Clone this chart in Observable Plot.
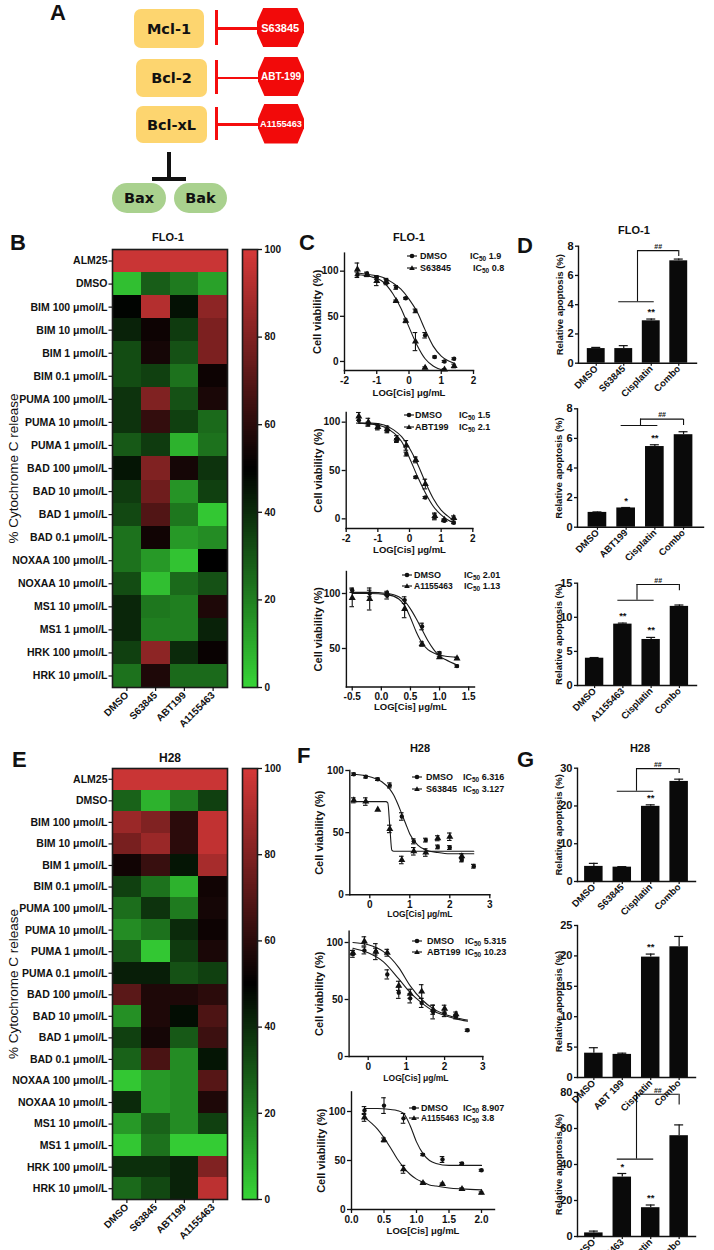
<!DOCTYPE html>
<html><head><meta charset="utf-8">
<script src="https://cdn.jsdelivr.net/npm/d3@7"></script>
<script src="https://cdn.jsdelivr.net/npm/@observablehq/plot@0.6"></script>
<style>
body{margin:0;background:#fff;}
#root{position:relative;width:714px;height:1250px;overflow:hidden;font-family:"Liberation Sans",Arial,sans-serif;color:#111;}
.letter{position:absolute;font-weight:bold;font-size:22px;line-height:1;}
.title{position:absolute;font-weight:bold;font-size:11px;line-height:1;transform:translate(-50%,-50%);white-space:nowrap;}
.leg{position:absolute;font-weight:bold;font-size:9px;line-height:1;white-space:nowrap;transform:translateY(-50%);}
.leg sub{font-size:6.5px;vertical-align:-2px;line-height:0;}
.abox{position:absolute;display:flex;align-items:center;justify-content:center;font-family:"DejaVu Sans",sans-serif;font-weight:bold;font-size:14.5px;}
.red{position:absolute;background:#f50d0d;}
.drug{position:absolute;background:#f20a0a;color:#fff;display:flex;align-items:center;justify-content:center;font-weight:bold;clip-path:polygon(14% 0,86% 0,100% 38%,100% 62%,86% 100%,14% 100%,0 62%,0 38%);}
</style></head><body><div id="root"></div>
<script>
// ---------------- DATA ----------------
const heatCols = ["DMSO", "S63845", "ABT199", "A1155463"];
const heatTicks = [0, 20, 40, 60, 80, 100];
const floRows = ["ALM25","DMSO","BIM 100 μmol/L","BIM 10 μmol/L","BIM 1 μmol/L","BIM 0.1 μmol/L","PUMA 100 μmol/L","PUMA 10 μmol/L","PUMA 1 μmol/L","BAD 100 μmol/L","BAD 10 μmol/L","BAD 1 μmol/L","BAD 0.1 μmol/L","NOXAA 100 μmol/L","NOXAA 10 μmol/L","MS1 10 μmol/L","MS1 1 μmol/L","HRK 100 μmol/L","HRK 10 μmol/L"];
const floValues = [
 [97,97,97,97],[5,28,21,12],[49,92,46,83],[42,53,36,79],[32,55,31,79],[32,35,23,53],
 [38,80,31,56],[38,62,35,25],[29,36,8,23],[45,80,55,38],[36,76,15,35],[33,69,22,3],
 [23,54,14,17],[23,14,4,50],[32,5,25,31],[41,22,20,57],[41,20,20,42],[35,83,40,52],[23,57,25,25]
];
const h28Rows = ["ALM25","DMSO","BIM 100 μmol/L","BIM 10 μmol/L","BIM 1 μmol/L","BIM 0.1 μmol/L","PUMA 100 μmol/L","PUMA 10 μmol/L","PUMA 1 μmol/L","PUMA 0.1 μmol/L","BAD 100 μmol/L","BAD 10 μmol/L","BAD 1 μmol/L","BAD 0.1 μmol/L","NOXAA 100 μmol/L","NOXAA 10 μmol/L","MS1 10 μmol/L","MS1 1 μmol/L","HRK 100 μmol/L","HRK 10 μmol/L"];
const h28Values = [
 [97,97,97,97],[27,8,21,35],[86,80,60,95],[78,86,60,95],[54,63,45,89],[35,23,8,54],
 [24,38,21,55],[17,23,40,53],[29,3,36,56],[43,43,31,35],[71,57,57,60],[16,57,47,68],
 [35,55,29,64],[27,67,17,45],[3,14,17,70],[40,14,17,57],[14,27,17,35],[3,23,2,2],[39,39,42,80],[25,33,42,94]
];

// C: FLO-1 dose response
const c1X = [-1.6,-1.3,-1.0,-0.7,-0.4,-0.1,0.2,0.5,0.8,1.1,1.4];
const c1Dmso = [96,97,93,90,82,70,56,29,5,0,3];
const c1DmsoErr = [3,2,2,2,2,1,2,3,1,1,1];
const c1S63845 = [102,96,89,88,67,45,22,-7,null,-9,-5];
const c1S63845Err = [7,2,5,3,1,2,10,1,0,1,2];
const c1FitX = [-1.6,-1.2,-0.8,-0.5,-0.25,0,0.25,0.5,0.75,1.0,1.2,1.4];
const c1DmsoFit = [98,96,93,87,80,69,55,35,17,6,1,-2];
const c1S63845FitX = [-1.6,-1.2,-0.8,-0.5,-0.25,0,0.25,0.5,0.75,1.1];
const c1S63845Fit = [96,94,88,75,59,38,18,3,-5,-10];

const c2X = [-1.6,-1.3,-1.0,-0.7,-0.4,-0.1,0.2,0.5,0.8,1.1,1.4];
const c2Dmso = [102,98,95,91,81,67,43,22,2,-2,-4];
const c2DmsoErr = [3,2,2,2,2,2,1,1,3,1,1];
const c2Abt = [106,100,95,93,83,76,61,36,3,-1,1];
const c2AbtErr = [4,4,3,3,3,5,3,5,3,1,2];
const c2FitX = [-1.6,-1.2,-0.8,-0.5,-0.25,0,0.25,0.5,0.75,1.0,1.2,1.4];
const c2DmsoFit = [99,98,95,89,80,63,44,27,13,4,-1,-4];
const c2AbtFit = [99,99,97,92,85,73,57,38,21,9,3,-2];

const c3X = [-0.5,-0.2,0.1,0.4,0.7,1.0,1.3];
const c3Dmso = [103,100,98,94,70,46,34];
const c3DmsoErr = [2,3,3,3,3,1,1];
const c3A115 = [96,95,100,86,54,42,41];
const c3A115Err = [8,10,2,8,2,1,1];
const c3FitX = [-0.5,-0.2,0.1,0.3,0.4,0.5,0.6,0.7,0.8,0.9,1.0,1.1,1.3];
const c3DmsoFit = [101,101,100,97,93,86,77,67,57,49,43,40,35];
const c3A115Fit = [100,100,99,95,89,78,65,55,49,46,44,43,42];

// F: H28 dose response
const f1X = [-0.4,-0.1,0.2,0.5,0.8,1.1,1.4,1.7,2.0,2.3,2.6];
const f1Dmso = [97,95,93,88,63,43,44,38.5,38,28,23];
const f1DmsoErr = [1,1,1,2,3,2,1.5,1.5,1.5,1.5,1.5];
const f1S63845 = [76,75,68.5,53,28,35,34,45.5,46.7,31,null];
const f1S63845Err = [2,3,0,3,3,3,3,2,3,2,0];
const f1DmsoFitX = [-0.4,0,0.3,0.5,0.6,0.7,0.8,0.9,1.0,1.2,1.4,1.7,2.0,2.6];
const f1DmsoFit = [97,95,91,85,80,73,65,57,49,40,36,34,33,33];
const f1S63845FitX = [-0.4,0.4,0.45,0.5,0.55,0.6,2.6];
const f1S63845Fit = [75,75,74,55,36,35,35];

const f2X = [-0.4,-0.1,0.2,0.5,0.8,1.1,1.4,1.7,2.0,2.3,2.6];
const f2Dmso = [90,93,92,72,56,51,47,39,38,35,23];
const f2DmsoErr = [3,3,7,4,5,4,4,6,3,2,1];
const f2Abt = [91,101,92,91,62,55,57,41,42,37,null];
const f2AbtErr = [2,4,3,3,4,4,6,4,3,2,0];
const f2FitX = [-0.4,0,0.4,0.8,1.1,1.4,1.7,2.0,2.3,2.6];
const f2DmsoFit = [95,91,83,68,56,47,40,36,33,31];
const f2AbtFit = [100,98,92,78,62,50,42,37,34,32];

const f3X = [0.2,0.5,0.8,1.1,1.4,1.7,2.0];
const f3Dmso = [101,106,93,56,51,47,40];
const f3DmsoErr = [4,8,5,1,3,1,1];
const f3A115 = [94,71,41,27,26,21,17];
const f3A115Err = [4,2,4,1,1,1,1];
const f3FitX = [0.2,0.4,0.6,0.7,0.8,0.9,1.0,1.1,1.2,1.3,1.5,1.7,2.0];
const f3DmsoFit = [103,103,102,101,98,86,69,57,50,47,45,45,45];
const f3A115Fit = [94,82,63,52,43,36,31,28,25,24,22,21,20];

// D / G: relative apoptosis bars
const d1Cats = ["DMSO","S63845","Cisplatin","Combo"];
const d1Vals = [1.0,1.0,2.9,7.0];
const d1Errs = [0.08,0.2,0.12,0.12];
const d1Stars = ["","","**",""];
const d2Cats = ["DMSO","ABT199","Cisplatin","Combo"];
const d2Vals = [1.0,1.3,5.45,6.25];
const d2Errs = [0.03,0.03,0.12,0.2];
const d2Stars = ["","*","**",""];
const d3Cats = ["DMSO","A1155463","Cisplatin","Combo"];
const d3Vals = [4.0,9.0,6.75,11.6];
const d3Errs = [0.1,0.15,0.3,0.2];
const d3Stars = ["","**","**",""];
const g1Cats = ["DMSO","S63845","Cisplatin","Combo"];
const g1Vals = [4.0,3.8,19.9,26.5];
const g1Errs = [0.8,0.15,0.4,0.6];
const g1Stars = ["","","**",""];
const g2Cats = ["DMSO","ABT 199","Cisplatin","Combo"];
const g2Vals = [4.0,3.8,19.8,21.5];
const g2Errs = [0.9,0.2,0.5,1.7];
const g2Stars = ["","","**",""];
const g3Cats = ["DMSO","A1155463","Cisplatin","Combo"];
const g3Vals = [2,33,16,56];
const g3Errs = [1,2,1.5,6];
const g3Stars = ["","*","**",""];

// ---------------- HELPERS ----------------
const root = document.getElementById("root");
const FONT = '"Liberation Sans", Arial, sans-serif';
const baseStyle = {fontFamily: FONT, fontWeight: "bold", fontSize: "10px", color: "#111", background: "none", overflow: "visible"};
const heatColor = {type: "linear", domain: [0, 50, 100], range: ["#36d436", "#000000", "#d63838"]};

function el(tag, cls, text, css) {
  const d = document.createElement(tag);
  if (cls) d.className = cls;
  if (text != null) d.innerHTML = text;
  Object.assign(d.style, css || {});
  root.appendChild(d);
  return d;
}
function px(v) { return v + "px"; }
function frameOpts(b, f) {
  return {width: b.w, height: b.h, marginLeft: f.x0 - b.l, marginRight: b.l + b.w - f.x1, marginTop: f.y0 - b.t, marginBottom: b.t + b.h - f.y1};
}
function mount(svg, b) {
  svg.style.position = "absolute"; svg.style.left = px(b.l); svg.style.top = px(b.t);
  root.appendChild(svg);
}
function letter(ch, l, capTop) { el("div", "letter", ch, {left: px(l), top: px(capTop - 3)}); }
function title(t, cx, cy, fs) { el("div", "title", t, {left: px(cx), top: px(cy), fontSize: px(fs || 11)}); }

function heatmap(rows, values, box, fr) {
  const data = rows.flatMap((r, i) => heatCols.map((c, j) => ({row: r, col: c, value: values[i][j]})));
  const svg = Plot.plot({
    ...frameOpts(box, fr), style: baseStyle,
    x: {domain: heatCols, padding: 0, round: false},
    y: {domain: rows, padding: 0, round: false},
    color: heatColor,
    marks: [
      Plot.cell(data, {x: "col", y: "row", fill: "value", shapeRendering: "crispEdges"}),
      Plot.frame({stroke: "#1b1b1b", strokeWidth: 1.6}),
      Plot.axisY({tickSize: 3.5, tickPadding: 1.5, label: null, fontSize: 10.5, fontWeight: "bold", strokeWidth: 1.2}),
      Plot.axisX({tickSize: 4, tickPadding: 2, tickRotate: -45, label: null, fontSize: 10, fontWeight: "bold", strokeWidth: 1.2}),
      Plot.text(["% Cytochrome C release"], {text: d => d, frameAnchor: "left", textAnchor: "middle", rotate: -90, dx: 13 - fr.x0, fontSize: 13.5, fontWeight: "normal"})
    ]
  });
  mount(svg, box);
}
function colorbar(box, fr) {
  const steps = d3.range(0, 100, 0.5);
  const svg = Plot.plot({
    ...frameOpts(box, fr), style: baseStyle,
    x: {domain: [0, 1], axis: null},
    y: {domain: [0, 100]},
    color: heatColor,
    marks: [
      Plot.rect(steps, {x1: () => 0, x2: () => 1, y1: d => d, y2: d => d + 0.6, fill: d => d + 0.25, shapeRendering: "crispEdges"}),
      Plot.frame({stroke: "#1b1b1b", strokeWidth: 1.6}),
      Plot.axisY({anchor: "right", ticks: heatTicks, tickSize: 4, tickPadding: 3, label: null, fontSize: 10, strokeWidth: 1.3})
    ]
  });
  mount(svg, box);
}

function doseChart(cfg) {
  const {box, fr, xDomain, yDomain, xTicks, yTicks, fmt, series, fits, xLabel, xLabelSize, xLabelDy, yLabelDx} = cfg;
  const marks = [];
  for (const f of fits) {
    marks.push(Plot.line(f.x.map((x, i) => ({x, y: f.y[i]})), {x: "x", y: "y", curve: "monotone-x", stroke: "#1a1a1a", strokeWidth: 1.1}));
  }
  for (const s of series) {
    const pts = s.x.map((x, i) => ({x, y: s.y[i], e: s.err[i]})).filter(d => d.y != null);
    const eb = pts.filter(d => d.e > 0);
    marks.push(Plot.ruleX(eb, {x: "x", y1: d => d.y - d.e, y2: d => d.y + d.e, strokeWidth: 1.1}));
    marks.push(Plot.ruleY(eb, {x1: "x", x2: "x", y: d => d.y + d.e, insetLeft: -2.3, insetRight: -2.3, strokeWidth: 1.1}));
    marks.push(Plot.ruleY(eb, {x1: "x", x2: "x", y: d => d.y - d.e, insetLeft: -2.3, insetRight: -2.3, strokeWidth: 1.1}));
    marks.push(Plot.dot(pts, {x: "x", y: "y", symbol: s.symbol, r: s.symbol === "triangle" ? 2.6 : 2.2, fill: "#111", stroke: "none"}));
  }
  marks.push(
    Plot.frame({anchor: "left", strokeWidth: 1.4}),
    Plot.frame({anchor: "bottom", strokeWidth: 1.4}),
    Plot.axisX({ticks: xTicks, tickFormat: fmt, tickSize: 4, tickPadding: 2, label: null, fontSize: 10, strokeWidth: 1.3}),
    Plot.axisY({ticks: yTicks, tickFormat: d => String(d), tickSize: 4, tickPadding: 2, label: null, fontSize: 10, strokeWidth: 1.3}),
    Plot.text([xLabel], {text: d => d, frameAnchor: "bottom", dy: xLabelDy, fontSize: xLabelSize}),
    Plot.text(["Cell viability (%)"], {text: d => d, frameAnchor: "left", textAnchor: "middle", rotate: -90, dx: yLabelDx, fontSize: 11})
  );
  const svg = Plot.plot({
    ...frameOpts(box, fr), style: baseStyle,
    x: {domain: xDomain}, y: {domain: yDomain},
    marks
  });
  mount(svg, box);
}

function barChart(cfg) {
  const {box, fr, po, cats, vals, errs, stars, yDomain, yTicks, bracket} = cfg;
  const pi = 0.35;
  const sb = d3.scaleBand(cats, [fr.x0, fr.x1]).paddingInner(pi).paddingOuter(po);
  const step = sb.step(), bw = sb.bandwidth();
  const rows = cats.map((c, i) => ({c, v: vals[i], e: errs[i], s: stars[i]}));
  const marks = [
    Plot.barY(rows, {x: "c", y: "v", fill: "#0a0a0a"}),
    Plot.ruleX(rows, {x: "c", y1: "v", y2: d => d.v + d.e, strokeWidth: 1.2}),
    Plot.tickY(rows, {x: "c", y: d => d.v + d.e, insetLeft: bw / 2 - 4.5, insetRight: bw / 2 - 4.5, strokeWidth: 1.2}),
    Plot.text(rows.filter(d => d.s), {x: "c", y: d => d.v + d.e, text: "s", dy: -7, fontSize: 9.5})
  ];
  if (bracket) {
    const b = [bracket];
    marks.push(
      Plot.ruleY(b, {x1: "from", x2: "to", y: "yLow", insetLeft: bw / 2 - 5, insetRight: bw / 2 - 3, strokeWidth: 1.1}),
      Plot.ruleX(b, {x: "to", y1: "yLow", y2: "yTop", dx: -step / 2, strokeWidth: 1.1}),
      Plot.ruleY(b, {x1: "to", x2: "target", y: "yTop", insetLeft: bw / 2 - step / 2, insetRight: bw / 2, strokeWidth: 1.1}),
      Plot.ruleX(b, {x: "target", y1: "yTop", y2: "yDrop", strokeWidth: 1.1}),
      Plot.text(b, {x: "target", y: "yTop", text: () => "##", dx: -0.75 * step, dy: -4, fontSize: 7})
    );
  }
  marks.push(
    Plot.frame({anchor: "left", strokeWidth: 1.4}),
    Plot.frame({anchor: "bottom", strokeWidth: 1.4}),
    Plot.axisY({ticks: yTicks, tickFormat: d => String(d), tickSize: 3, tickPadding: 2, label: null, fontSize: 11, strokeWidth: 1.3}),
    Plot.axisX({tickSize: 3, tickPadding: 1, tickRotate: -45, label: null, fontSize: 9.5, strokeWidth: 1.2}),
    Plot.text(["Relative apoptosis (%)"], {text: d => d, frameAnchor: "left", textAnchor: "middle", rotate: -90, dx: -19, fontSize: 9.5})
  );
  const svg = Plot.plot({
    ...frameOpts(box, fr), style: baseStyle,
    x: {domain: cats, paddingInner: pi, paddingOuter: po, round: false},
    y: {domain: yDomain},
    marks
  });
  mount(svg, box);
}

const svgNS = "http://www.w3.org/2000/svg";
function legend(entries) {
  for (const e of entries) {
    const s = document.createElementNS(svgNS, "svg");
    s.setAttribute("width", 12); s.setAttribute("height", 8);
    Object.assign(s.style, {position: "absolute", left: px(e.sx - 6), top: px(e.y - 4)});
    const ln = document.createElementNS(svgNS, "line");
    ln.setAttribute("x1", 1); ln.setAttribute("x2", 11); ln.setAttribute("y1", 4); ln.setAttribute("y2", 4);
    ln.setAttribute("stroke", "#111"); ln.setAttribute("stroke-width", 1.1);
    s.appendChild(ln);
    let m;
    if (e.sym === "circle") { m = document.createElementNS(svgNS, "circle"); m.setAttribute("cx", 6); m.setAttribute("cy", 4); m.setAttribute("r", 2.3); }
    else { m = document.createElementNS(svgNS, "path"); m.setAttribute("d", "M6,1.2L8.8,6L3.2,6Z"); }
    m.setAttribute("fill", "#111");
    s.appendChild(m);
    root.appendChild(s);
    el("div", "leg", e.name, {left: px(e.nx), top: px(e.y), fontSize: px(e.fs || 9)});
    el("div", "leg", "IC<sub>50</sub> " + e.ic, {left: px(e.ix), top: px(e.y)});
  }
}

// ---------------- PANEL A (schematic) ----------------
letter("A", 50, 5);
const aBoxes = [
  {t: "Mcl-1", l: 134, top: 9, w: 70, h: 39},
  {t: "Bcl-2", l: 136, top: 59, w: 71, h: 38},
  {t: "Bcl-xL", l: 136, top: 106, w: 71, h: 37}
];
const aDrugs = [
  {t: "S63845", top: 8, h: 39, l: 256.5, fs: 11},
  {t: "ABT-199", top: 57, h: 39, l: 258, fs: 10},
  {t: "A1155463", top: 103.5, h: 40, l: 258, fs: 9.2}
];
aBoxes.forEach((b, i) => {
  el("div", "abox", b.t, {left: px(b.l), top: px(b.top), width: px(b.w), height: px(b.h), background: "#fdd56f", borderRadius: "7px"});
  const cy = b.top + b.h / 2;
  el("div", "red", null, {left: "214.5px", top: px(b.top + 1), width: "3.5px", height: px(b.h - 4)});
  el("div", "red", null, {left: "217px", top: px(cy - 1.3), width: px(aDrugs[i].l - 216), height: "2.6px"});
  const d = aDrugs[i];
  el("div", "drug", d.t, {left: px(d.l), top: px(d.top), width: px(304 - d.l), height: px(d.h), fontSize: px(d.fs)});
});
el("div", "red", null, {left: "167px", top: "152px", width: "4px", height: "28px", background: "#111"});
el("div", "red", null, {left: "152px", top: "177px", width: "34px", height: "3.5px", background: "#111"});
el("div", "abox", "Bax", {left: "112px", top: "183px", width: "54px", height: "30px", background: "#a9d18e", borderRadius: "15px"});
el("div", "abox", "Bak", {left: "174px", top: "183px", width: "53px", height: "30px", background: "#a9d18e", borderRadius: "15px"});

// ---------------- PANEL B / E heatmaps ----------------
letter("B", 10, 235);
title("FLO-1", 168, 237);
heatmap(floRows, floValues, {l: 0, t: 240, w: 240, h: 510}, {x0: 112, x1: 227, y0: 249, y1: 687});
colorbar({l: 235, t: 240, w: 60, h: 460}, {x0: 242, x1: 257, y0: 249, y1: 687});

letter("E", 12, 752);
title("H28", 170, 758, 12);
heatmap(h28Rows, h28Values, {l: 0, t: 760, w: 240, h: 490}, {x0: 112, x1: 227, y0: 768, y1: 1199});
colorbar({l: 235, t: 760, w: 60, h: 460}, {x0: 242, x1: 257, y0: 768, y1: 1199});

// ---------------- PANEL C ----------------
letter("C", 299, 235);
title("FLO-1", 409, 237);
const intFmt = d => String(d);
const decFmt = d => d.toFixed(1);
doseChart({box: {l: 300, t: 245, w: 200, h: 160}, fr: {x0: 344, x1: 473, y0: 252.6, y1: 370},
  xDomain: [-2, 2], yDomain: [-10, 120], xTicks: [-2,-1,0,1,2], yTicks: [0,50,100], fmt: intFmt,
  series: [{x: c1X, y: c1Dmso, err: c1DmsoErr, symbol: "circle"}, {x: c1X, y: c1S63845, err: c1S63845Err, symbol: "triangle"}],
  fits: [{x: c1FitX, y: c1DmsoFit}, {x: c1S63845FitX, y: c1S63845Fit}],
  xLabel: "LOG[Cis] μg/mL", xLabelSize: 9.5, xLabelDy: 25, yLabelDx: -27});
legend([
  {y: 256, sx: 412, nx: 420, ix: 470, sym: "circle", name: "DMSO", ic: "1.9"},
  {y: 268, sx: 412, nx: 420, ix: 473, sym: "triangle", name: "S63845", ic: "0.8"}
]);
doseChart({box: {l: 300, t: 400, w: 200, h: 165}, fr: {x0: 345.7, x1: 472.3, y0: 412, y1: 528},
  xDomain: [-2, 2], yDomain: [-10, 110], xTicks: [-2,-1,0,1,2], yTicks: [0,50,100], fmt: intFmt,
  series: [{x: c2X, y: c2Dmso, err: c2DmsoErr, symbol: "circle"}, {x: c2X, y: c2Abt, err: c2AbtErr, symbol: "triangle"}],
  fits: [{x: c2FitX, y: c2DmsoFit}, {x: c2FitX, y: c2AbtFit}],
  xLabel: "LOG[Cis] μg/mL", xLabelSize: 9.5, xLabelDy: 24, yLabelDx: -28});
legend([
  {y: 415, sx: 409, nx: 415, ix: 459, sym: "circle", name: "DMSO", ic: "1.5"},
  {y: 427, sx: 409, nx: 415, ix: 459, sym: "triangle", name: "ABT199", ic: "2.1"}
]);
doseChart({box: {l: 300, t: 560, w: 200, h: 160}, fr: {x0: 345.9, x1: 474, y0: 571, y1: 686.5},
  xDomain: [-0.6, 1.6], yDomain: [15, 120], xTicks: [-0.5,0,0.5,1,1.5], yTicks: [50,100], fmt: decFmt,
  series: [{x: c3X, y: c3Dmso, err: c3DmsoErr, symbol: "circle"}, {x: c3X, y: c3A115, err: c3A115Err, symbol: "triangle"}],
  fits: [{x: c3FitX, y: c3DmsoFit}, {x: c3FitX, y: c3A115Fit}],
  xLabel: "LOG[Cis] μg/mL", xLabelSize: 9.5, xLabelDy: 23, yLabelDx: -28});
legend([
  {y: 575, sx: 407, nx: 414, ix: 464, sym: "circle", name: "DMSO", ic: "2.01"},
  {y: 586, sx: 407, nx: 414, ix: 464, sym: "triangle", name: "A1155463", ic: "1.13", fs: 8.5}
]);

// ---------------- PANEL F ----------------
letter("F", 297, 748);
title("H28", 420, 748);
doseChart({box: {l: 300, t: 760, w: 200, h: 170}, fr: {x0: 349.3, x1: 489.3, y0: 770, y1: 894.3},
  xDomain: [-0.5, 3], yDomain: [0, 100], xTicks: [0,1,2,3], yTicks: [0,50,100], fmt: intFmt,
  series: [{x: f1X, y: f1Dmso, err: f1DmsoErr, symbol: "circle"}, {x: f1X, y: f1S63845, err: f1S63845Err, symbol: "triangle"}],
  fits: [{x: f1DmsoFitX, y: f1DmsoFit}, {x: f1S63845FitX, y: f1S63845Fit}],
  xLabel: "LOG[Cis] μg/mL", xLabelSize: 8.5, xLabelDy: 22, yLabelDx: -30});
legend([
  {y: 777, sx: 417, nx: 426, ix: 463, sym: "circle", name: "DMSO", ic: "6.316"},
  {y: 789, sx: 417, nx: 426, ix: 463, sym: "triangle", name: "S63845", ic: "3.127"}
]);
doseChart({box: {l: 300, t: 920, w: 200, h: 170}, fr: {x0: 348.6, x1: 482.3, y0: 930.6, y1: 1056},
  xDomain: [-0.5, 3], yDomain: [0, 110], xTicks: [0,1,2,3], yTicks: [0,50,100], fmt: intFmt,
  series: [{x: f2X, y: f2Dmso, err: f2DmsoErr, symbol: "circle"}, {x: f2X, y: f2Abt, err: f2AbtErr, symbol: "triangle"}],
  fits: [{x: f2FitX, y: f2DmsoFit}, {x: f2FitX, y: f2AbtFit}],
  xLabel: "LOG[Cis] μg/mL", xLabelSize: 8.5, xLabelDy: 24, yLabelDx: -30});
legend([
  {y: 941, sx: 417, nx: 427, ix: 465, sym: "circle", name: "DMSO", ic: "5.315"},
  {y: 952, sx: 417, nx: 427, ix: 465, sym: "triangle", name: "ABT199", ic: "10.23"}
]);
doseChart({box: {l: 300, t: 1085, w: 200, h: 165}, fr: {x0: 351, x1: 494, y0: 1091.4, y1: 1209},
  xDomain: [0, 2.2], yDomain: [0, 120], xTicks: [0,0.5,1,1.5,2], yTicks: [0,50,100], fmt: decFmt,
  series: [{x: f3X, y: f3Dmso, err: f3DmsoErr, symbol: "circle"}, {x: f3X, y: f3A115, err: f3A115Err, symbol: "triangle"}],
  fits: [{x: f3FitX, y: f3DmsoFit}, {x: f3FitX, y: f3A115Fit}],
  xLabel: "LOG[Cis] μg/mL", xLabelSize: 9.5, xLabelDy: 24, yLabelDx: -30});
legend([
  {y: 1108, sx: 414, nx: 421, ix: 463, sym: "circle", name: "DMSO", ic: "8.907"},
  {y: 1118, sx: 414, nx: 421, ix: 463, sym: "triangle", name: "A1155463", ic: "3.8", fs: 8.3}
]);

// ---------------- PANEL D ----------------
letter("D", 517, 238);
title("FLO-1", 634, 230);
barChart({box: {l: 490, t: 235, w: 224, h: 170}, fr: {x0: 578, x1: 696, y0: 245.7, y1: 362.7}, po: 0.32,
  cats: d1Cats, vals: d1Vals, errs: d1Errs, stars: d1Stars, yDomain: [0, 8], yTicks: [0,2,4,6,8],
  bracket: {from: "S63845", to: "Cisplatin", target: "Combo", yLow: 4.2, yTop: 7.7, yDrop: 7.3}});
barChart({box: {l: 490, t: 398, w: 224, h: 170}, fr: {x0: 577, x1: 703, y0: 408.3, y1: 526.7}, po: 0.37,
  cats: d2Cats, vals: d2Vals, errs: d2Errs, stars: d2Stars, yDomain: [0, 8], yTicks: [0,2,4,6,8],
  bracket: {from: "ABT199", to: "Cisplatin", target: "Combo", yLow: 6.87, yTop: 7.3, yDrop: 6.87}});
barChart({box: {l: 490, t: 572, w: 224, h: 160}, fr: {x0: 577, x1: 696, y0: 582.7, y1: 685}, po: 0.28,
  cats: d3Cats, vals: d3Vals, errs: d3Errs, stars: d3Stars, yDomain: [0, 15], yTicks: [0,5,10,15],
  bracket: {from: "A1155463", to: "Cisplatin", target: "Combo", yLow: 12.5, yTop: 14.8, yDrop: 13.9}});

// ---------------- PANEL G ----------------
letter("G", 517, 752);
title("H28", 640, 748);
barChart({box: {l: 490, t: 757, w: 224, h: 170}, fr: {x0: 577, x1: 695, y0: 767.7, y1: 881}, po: 0.25,
  cats: g1Cats, vals: g1Vals, errs: g1Errs, stars: g1Stars, yDomain: [0, 30], yTicks: [0,10,20,30],
  bracket: {from: "S63845", to: "Cisplatin", target: "Combo", yLow: 23.9, yTop: 29.9, yDrop: 28.6}});
barChart({box: {l: 490, t: 915, w: 224, h: 200}, fr: {x0: 577, x1: 695, y0: 925, y1: 1077}, po: 0.25,
  cats: g2Cats, vals: g2Vals, errs: g2Errs, stars: g2Stars, yDomain: [0, 25], yTicks: [0,5,10,15,20,25], bracket: null});
barChart({box: {l: 490, t: 1082, w: 224, h: 168}, fr: {x0: 577, x1: 695, y0: 1092, y1: 1236}, po: 0.25,
  cats: g3Cats, vals: g3Vals, errs: g3Errs, stars: g3Stars, yDomain: [0, 80], yTicks: [0,20,40,60,80],
  bracket: {from: "A1155463", to: "Cisplatin", target: "Combo", yLow: 43, yTop: 79, yDrop: 73}});
</script></body></html>
